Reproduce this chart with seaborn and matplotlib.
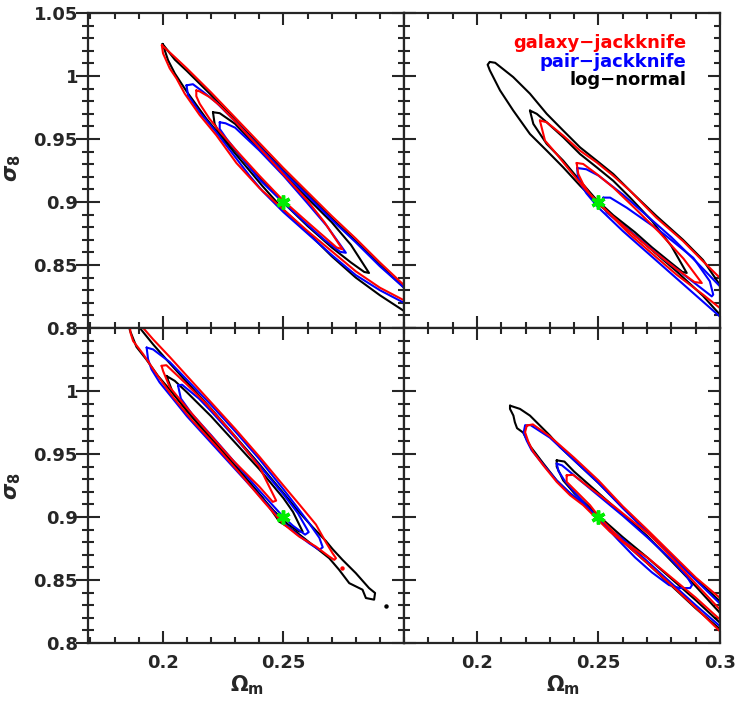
import numpy as np
import pandas as pd
import matplotlib.pyplot as plt
import seaborn as sns
from matplotlib.ticker import FixedLocator, MultipleLocator, FixedFormatter

# contour loops (Omega_m, sigma_8); one list per contour
# tl = top left, tr = top right, bl = bottom left, br = bottom right
# gal = galaxy-jackknife, pair = pair-jackknife, logn = log-normal ; 1 = inner, 2 = outer

tl_gal_2 = [(0.1996, 1.0245), (0.205, 1.015), (0.21, 1.006), (0.22, 0.987), (0.23, 0.967), (0.24, 0.947),
            (0.25, 0.927), (0.26, 0.908), (0.27, 0.889), (0.28, 0.871), (0.29, 0.852), (0.30, 0.834),
            (0.31, 0.816), (0.31, 0.806), (0.30, 0.822), (0.29, 0.832), (0.28, 0.845), (0.27, 0.861),
            (0.26, 0.877), (0.25, 0.894), (0.2401, 0.911), (0.2305, 0.931), (0.2222, 0.953), (0.2153, 0.969),
            (0.2091, 0.986), (0.2057, 0.998), (0.2029, 1.006), (0.2001, 1.018)]
tl_logn_2 = [(0.1999, 1.0255), (0.205, 1.013), (0.21, 1.004), (0.22, 0.985), (0.23, 0.965), (0.24, 0.945),
             (0.25, 0.925), (0.26, 0.906), (0.27, 0.887), (0.28, 0.869), (0.29, 0.850), (0.30, 0.832),
             (0.31, 0.814), (0.31, 0.797), (0.30, 0.8135), (0.29, 0.826), (0.28, 0.840), (0.27, 0.857),
             (0.26, 0.876), (0.25, 0.894), (0.2414, 0.9125), (0.2346, 0.928), (0.2263, 0.947), (0.2181, 0.966),
             (0.2098, 0.988), (0.205, 1.002), (0.2022, 1.0125), (0.2008, 1.0205)]
tl_pair_2 = [(0.2098, 0.9926), (0.2125, 0.9935), (0.2167, 0.9875), (0.2222, 0.979), (0.23, 0.964), (0.24, 0.944),
             (0.25, 0.924), (0.26, 0.905), (0.27, 0.886), (0.28, 0.868), (0.29, 0.849), (0.30, 0.832),
             (0.31, 0.814), (0.31, 0.805), (0.30, 0.820), (0.29, 0.830), (0.28, 0.842), (0.27, 0.858),
             (0.26, 0.875), (0.25, 0.892), (0.2414, 0.9085), (0.236, 0.9208), (0.2305, 0.9345), (0.2222, 0.9553),
             (0.2153, 0.9713), (0.2105, 0.9846)]
tl_gal_1 = [(0.2139, 0.9886), (0.2153, 0.9878), (0.2194, 0.9833), (0.2236, 0.9766), (0.23, 0.964), (0.24, 0.943),
            (0.25, 0.922), (0.26, 0.901), (0.267, 0.884), (0.2745, 0.8624), (0.272, 0.864), (0.266, 0.874),
            (0.26, 0.884), (0.25, 0.901), (0.24, 0.921), (0.23, 0.942), (0.2236, 0.956), (0.2194, 0.966),
            (0.2153, 0.978), (0.2139, 0.984)]
tl_logn_1 = [(0.2208, 0.9713), (0.2236, 0.9705), (0.23, 0.962), (0.24, 0.942), (0.25, 0.922), (0.26, 0.903),
             (0.27, 0.884), (0.278, 0.866), (0.2855, 0.8437), (0.2835, 0.8445), (0.278, 0.852), (0.27, 0.864),
             (0.26, 0.881), (0.25, 0.8995), (0.24, 0.919), (0.23, 0.941), (0.2236, 0.954), (0.2215, 0.962)]
tl_pair_1 = [(0.2236, 0.9633), (0.226, 0.9625), (0.23, 0.959), (0.24, 0.941), (0.25, 0.921), (0.26, 0.899),
             (0.268, 0.881), (0.2759, 0.8597), (0.2735, 0.8605), (0.267, 0.870), (0.26, 0.882), (0.25, 0.8995),
             (0.24, 0.918), (0.232, 0.937), (0.2265, 0.950), (0.2236, 0.958)]

tr_logn_2 = [(0.2053, 1.0112), (0.2075, 1.0105), (0.2149, 0.9992), (0.2218, 0.986), (0.2287, 0.970),
             (0.2355, 0.9567), (0.2424, 0.9434), (0.2493, 0.9328), (0.2561, 0.9222), (0.263, 0.9089),
             (0.2738, 0.889), (0.2848, 0.870), (0.293, 0.854), (0.30, 0.834), (0.31, 0.814), (0.31, 0.793),
             (0.30, 0.8105), (0.293, 0.8255), (0.2821, 0.845), (0.2725, 0.861), (0.2629, 0.877), (0.2493, 0.8995),
             (0.2424, 0.913), (0.2355, 0.9275), (0.2287, 0.9408), (0.2218, 0.954), (0.2149, 0.9727),
             (0.2095, 0.9886), (0.2053, 1.0045), (0.2044, 1.009)]
tr_logn_1 = [(0.2218, 0.9726), (0.2246, 0.970), (0.2287, 0.9633), (0.2355, 0.9514), (0.2424, 0.9381),
             (0.2493, 0.9275), (0.2561, 0.9168), (0.263, 0.9035), (0.272, 0.885), (0.280, 0.865), (0.2863, 0.8437),
             (0.2845, 0.8445), (0.279, 0.853), (0.272, 0.864), (0.265, 0.876), (0.2561, 0.8895), (0.2493, 0.9015),
             (0.2424, 0.9168), (0.2355, 0.9328), (0.2287, 0.9461), (0.2232, 0.962)]
tr_gal_2 = [(0.2259, 0.9647), (0.2287, 0.9633), (0.2355, 0.9527), (0.2424, 0.9408), (0.2493, 0.9314),
            (0.2561, 0.9208), (0.263, 0.9089), (0.2738, 0.8876), (0.2848, 0.869), (0.293, 0.853), (0.30, 0.8397),
            (0.31, 0.821), (0.31, 0.800), (0.30, 0.8158), (0.293, 0.8265), (0.2821, 0.8424), (0.2725, 0.8583),
            (0.2629, 0.8743), (0.2547, 0.8902), (0.25, 0.8995), (0.2451, 0.9089), (0.2383, 0.9248),
            (0.2328, 0.938), (0.228, 0.9487), (0.2266, 0.9593)]
tr_gal_1 = [(0.241, 0.931), (0.2437, 0.9302), (0.2493, 0.9222), (0.2561, 0.9115), (0.265, 0.895), (0.275, 0.876),
            (0.285, 0.855), (0.2925, 0.8357), (0.2895, 0.8365), (0.282, 0.847), (0.272, 0.862), (0.262, 0.878),
            (0.2493, 0.900), (0.2465, 0.9062), (0.2437, 0.9142), (0.2417, 0.9222)]
tr_pair_2 = [(0.2412, 0.927), (0.245, 0.926), (0.25, 0.921), (0.26, 0.906), (0.27, 0.889), (0.28, 0.872),
             (0.29, 0.853), (0.30, 0.833), (0.31, 0.814), (0.31, 0.792), (0.30, 0.809), (0.29, 0.826),
             (0.28, 0.843), (0.27, 0.860), (0.26, 0.877), (0.25, 0.8955), (0.245, 0.907), (0.2425, 0.915),
             (0.2415, 0.921)]
tr_pair_1 = [(0.252, 0.9035), (0.2548, 0.9035), (0.2616, 0.8955), (0.2753, 0.877), (0.289, 0.8557),
             (0.2958, 0.8371), (0.2972, 0.8265), (0.2966, 0.8251), (0.289, 0.8365), (0.2753, 0.857),
             (0.2616, 0.879), (0.2534, 0.8916), (0.2513, 0.8982)]

bl_gal_2 = [(0.1915, 1.056), (0.1919, 1.050), (0.196, 1.041), (0.2029, 1.027), (0.21, 1.012), (0.22, 0.991),
            (0.23, 0.970), (0.24, 0.948), (0.25, 0.925), (0.2566, 0.910), (0.2635, 0.894), (0.2676, 0.880),
            (0.2704, 0.8712), (0.2718, 0.8673), (0.2711, 0.866), (0.269, 0.8686), (0.2635, 0.8765),
            (0.2566, 0.8844), (0.25, 0.8945), (0.2415, 0.913), (0.2318, 0.935), (0.2222, 0.956), (0.2125, 0.976),
            (0.2043, 0.995), (0.1974, 1.0134), (0.1919, 1.0292), (0.1877, 1.0397), (0.1866, 1.0463), (0.1862, 1.056)]
bl_logn_2 = [(0.1855, 1.056), (0.1864, 1.048), (0.1891, 1.035), (0.1932, 1.025), (0.198, 1.012), (0.2043, 0.998),
             (0.213, 0.978), (0.2222, 0.958), (0.2318, 0.937), (0.2415, 0.915), (0.2484, 0.8962), (0.2552, 0.8883),
             (0.2621, 0.8778), (0.269, 0.8673), (0.2731, 0.8581), (0.2773, 0.8475), (0.2828, 0.8423),
             (0.2842, 0.8357), (0.2876, 0.8344), (0.288, 0.8397), (0.2855, 0.8436), (0.28, 0.8555), (0.2745, 0.866),
             (0.2704, 0.8745), (0.2676, 0.881), (0.2621, 0.892), (0.256, 0.905), (0.25, 0.919), (0.24, 0.942),
             (0.23, 0.964), (0.22, 0.986), (0.21, 1.007), (0.2029, 1.022), (0.196, 1.037), (0.1905, 1.05),
             (0.1895, 1.056)]
bl_pair_2 = [(0.1933, 1.0345), (0.196, 1.033), (0.2029, 1.023), (0.21, 1.009), (0.22, 0.989), (0.23, 0.968),
             (0.24, 0.946), (0.25, 0.922), (0.2552, 0.909), (0.2607, 0.895), (0.2649, 0.8835), (0.2663, 0.876),
             (0.2649, 0.8739), (0.2607, 0.8791), (0.2552, 0.887), (0.25, 0.8955), (0.24, 0.917), (0.23, 0.938),
             (0.22, 0.959), (0.21, 0.980), (0.2043, 0.9936), (0.1987, 1.0068), (0.1953, 1.0173), (0.1939, 1.0252)]
bl_gal_1 = [(0.1995, 1.020), (0.2015, 1.0205), (0.2098, 1.0055), (0.2181, 0.9897), (0.2291, 0.966),
            (0.2401, 0.9397), (0.247, 0.913), (0.2456, 0.912), (0.2401, 0.9239), (0.2291, 0.9449),
            (0.2181, 0.9686), (0.2098, 0.9871), (0.2029, 1.003), (0.2001, 1.016)]
bl_logn_1 = [(0.2015, 1.012), (0.205, 1.008), (0.21, 0.999), (0.22, 0.980), (0.23, 0.959), (0.24, 0.938),
             (0.25, 0.915), (0.254, 0.904), (0.258, 0.8883), (0.2565, 0.8885), (0.252, 0.894), (0.246, 0.905),
             (0.24, 0.918), (0.23, 0.940), (0.22, 0.962), (0.21, 0.984), (0.2043, 0.998)]
bl_pair_1 = [(0.2063, 1.0045), (0.208, 1.005), (0.215, 0.994), (0.22, 0.984), (0.23, 0.963), (0.24, 0.941),
             (0.25, 0.918), (0.256, 0.903), (0.2605, 0.888), (0.259, 0.886), (0.254, 0.893), (0.25, 0.900),
             (0.24, 0.921), (0.23, 0.943), (0.22, 0.965), (0.212, 0.982), (0.2075, 0.994)]

br_logn_2 = [(0.2136, 0.9884), (0.2177, 0.9858), (0.2218, 0.9805), (0.2259, 0.9726), (0.23, 0.9647),
             (0.2342, 0.9555), (0.24, 0.945), (0.25, 0.927), (0.26, 0.9075), (0.27, 0.889), (0.28, 0.870),
             (0.29, 0.851), (0.30, 0.833), (0.31, 0.815), (0.31, 0.794), (0.30, 0.811), (0.29, 0.8275),
             (0.28, 0.8455), (0.27, 0.8635), (0.26, 0.8805), (0.2547, 0.8895), (0.2492, 0.900), (0.2437, 0.9105),
             (0.2383, 0.9185), (0.2328, 0.929), (0.2273, 0.9425), (0.222, 0.956), (0.219, 0.967), (0.2165, 0.9705),
             (0.2156, 0.9752), (0.215, 0.9805), (0.2136, 0.9858)]
br_pair_2 = [(0.2198, 0.9726), (0.222, 0.973), (0.23, 0.963), (0.24, 0.945), (0.25, 0.927), (0.26, 0.907),
             (0.27, 0.888), (0.28, 0.869), (0.29, 0.850), (0.30, 0.8312), (0.31, 0.813), (0.31, 0.796),
             (0.30, 0.8133), (0.29, 0.830), (0.28, 0.8475), (0.27, 0.865), (0.26, 0.8825), (0.2547, 0.890),
             (0.2492, 0.9005), (0.2437, 0.911), (0.2383, 0.919), (0.2328, 0.929), (0.2273, 0.9415), (0.2225, 0.953),
             (0.2205, 0.9605), (0.2192, 0.967)]
br_gal_2 = [(0.2205, 0.9726), (0.223, 0.9735), (0.23, 0.964), (0.24, 0.947), (0.25, 0.929), (0.26, 0.9085),
            (0.27, 0.890), (0.28, 0.871), (0.29, 0.852), (0.30, 0.8357), (0.31, 0.818), (0.31, 0.792),
            (0.30, 0.8093), (0.29, 0.828), (0.28, 0.846), (0.27, 0.8635), (0.2616, 0.8778), (0.2547, 0.8884),
            (0.2492, 0.8989), (0.2437, 0.9094), (0.2383, 0.9173), (0.2328, 0.9279), (0.2273, 0.941),
            (0.2232, 0.9516), (0.2212, 0.9594), (0.2198, 0.9673)]
br_gal_1 = [(0.2369, 0.9331), (0.2396, 0.9335), (0.2451, 0.9252), (0.2506, 0.9173), (0.2575, 0.9068),
            (0.2643, 0.8962), (0.2712, 0.8857), (0.28, 0.868), (0.29, 0.847), (0.30, 0.8265), (0.31, 0.806),
            (0.31, 0.798), (0.30, 0.8186), (0.29, 0.836), (0.28, 0.852), (0.27, 0.868), (0.2602, 0.8805),
            (0.2547, 0.891), (0.2502, 0.9002), (0.2465, 0.9094), (0.241, 0.920), (0.2369, 0.9279)]
br_logn_1 = [(0.2328, 0.945), (0.236, 0.944), (0.24, 0.936), (0.25, 0.919), (0.26, 0.902), (0.27, 0.885),
             (0.28, 0.865), (0.29, 0.845), (0.30, 0.8238), (0.31, 0.803), (0.31, 0.795), (0.30, 0.816),
             (0.29, 0.834), (0.28, 0.851), (0.27, 0.868), (0.26, 0.884), (0.25, 0.901), (0.24, 0.919),
             (0.2355, 0.929), (0.2328, 0.940)]
br_pair_1 = [(0.2328, 0.9424), (0.235, 0.941), (0.24, 0.933), (0.25, 0.917), (0.26, 0.901), (0.27, 0.884),
             (0.28, 0.866), (0.2863, 0.853), (0.2885, 0.846), (0.2877, 0.8436), (0.2835, 0.8436), (0.279, 0.846),
             (0.272, 0.856), (0.265, 0.868), (0.258, 0.882), (0.2506, 0.8975), (0.245, 0.909), (0.24, 0.920),
             (0.236, 0.929), (0.2335, 0.9366)]

# tiny islands in the bottom-left panel
bl_islands_om = [0.2745, 0.2924]
bl_islands_s8 = [0.8594, 0.8291]
bl_islands_method = ["galaxy-jackknife", "log-normal"]

# fiducial model
fid_om = 0.25
fid_s8 = 0.90

methods = ["log-normal", "pair-jackknife", "galaxy-jackknife"]
method_colours = ["#000000", "#0000ff", "#ff0000"]

x_major = [0.2, 0.25, 0.3]
y_major = [0.8, 0.85, 0.9, 0.95, 1.0, 1.05]
x_labels_left = ["0.2", "0.25", ""]
x_labels_right = ["0.2", "0.25", "0.3"]
y_labels_top = ["0.8", "0.85", "0.9", "0.95", "1", "1.05"]
y_labels_bottom = ["0.8", "0.85", "0.9", "0.95", "1", ""]

contours = {
    ("tl", "galaxy-jackknife", 2): tl_gal_2, ("tl", "galaxy-jackknife", 1): tl_gal_1,
    ("tl", "pair-jackknife", 2): tl_pair_2, ("tl", "pair-jackknife", 1): tl_pair_1,
    ("tl", "log-normal", 2): tl_logn_2, ("tl", "log-normal", 1): tl_logn_1,
    ("tr", "galaxy-jackknife", 2): tr_gal_2, ("tr", "galaxy-jackknife", 1): tr_gal_1,
    ("tr", "pair-jackknife", 2): tr_pair_2, ("tr", "pair-jackknife", 1): tr_pair_1,
    ("tr", "log-normal", 2): tr_logn_2, ("tr", "log-normal", 1): tr_logn_1,
    ("bl", "galaxy-jackknife", 2): bl_gal_2, ("bl", "galaxy-jackknife", 1): bl_gal_1,
    ("bl", "pair-jackknife", 2): bl_pair_2, ("bl", "pair-jackknife", 1): bl_pair_1,
    ("bl", "log-normal", 2): bl_logn_2, ("bl", "log-normal", 1): bl_logn_1,
    ("br", "galaxy-jackknife", 2): br_gal_2, ("br", "galaxy-jackknife", 1): br_gal_1,
    ("br", "pair-jackknife", 2): br_pair_2, ("br", "pair-jackknife", 1): br_pair_1,
    ("br", "log-normal", 2): br_logn_2, ("br", "log-normal", 1): br_logn_1,
}

rows = []
for (panel, method, level), pts in contours.items():
    loop = pts + pts[:1]   # close the loop
    for i, (om, s8) in enumerate(loop):
        rows.append({"panel": panel, "method": method, "cid": f"{method}-{level}", "i": i, "om": om, "s8": s8})
df = pd.DataFrame(rows)

sns.set_style("ticks")
plt.rcParams["font.family"] = ["DejaVu Sans"]
plt.rcParams["font.weight"] = "bold"
plt.rcParams["mathtext.fontset"] = "custom"
plt.rcParams["mathtext.rm"] = "DejaVu Sans:bold"
plt.rcParams["mathtext.it"] = "DejaVu Sans:italic:bold"
plt.rcParams["mathtext.bf"] = "DejaVu Sans:bold"

fig, axes = plt.subplots(2, 2, figsize=(7.47, 7.08), dpi=100)
plt.subplots_adjust(left=0.1178, right=0.9639, bottom=0.0918, top=0.9816, wspace=0, hspace=0)

panels = {"tl": axes[0, 0], "tr": axes[0, 1], "bl": axes[1, 0], "br": axes[1, 1]}

for name, ax in panels.items():
    sub = df[df["panel"] == name]
    sns.lineplot(data=sub, x="om", y="s8", hue="method", hue_order=methods, palette=method_colours,
                 units="cid", estimator=None, sort=False, lw=1.5, legend=False, ax=ax)
    ax.plot(fid_om, fid_s8, marker=(6, 2, 0), ms=10, mew=2.5, color="#00ee00", zorder=5)

    left = name in ("tl", "bl")
    top = name in ("tl", "tr")
    ax.set_xlim(0.169 if left else 0.170, 0.3)
    ax.set_ylim(0.8, 1.05)
    ax.set_xlabel("")
    ax.set_ylabel("")

    ax.xaxis.set_major_locator(FixedLocator(x_major))
    ax.xaxis.set_minor_locator(MultipleLocator(0.01))
    ax.yaxis.set_major_locator(FixedLocator(y_major))
    ax.yaxis.set_minor_locator(MultipleLocator(0.01))

    ax.tick_params(axis="x", which="both", direction="in", top=True, bottom=True, width=1.5,
                   labelsize=13, pad=8)
    ax.tick_params(axis="x", which="major", length=8.5)
    ax.tick_params(axis="x", which="minor", length=4.5)
    if left:
        ax.tick_params(axis="y", which="both", direction="inout", left=True, right=True, width=1.5,
                       labelsize=13, pad=-1.3)
        ax.tick_params(axis="y", which="major", length=17)
        ax.tick_params(axis="y", which="minor", length=9)
    else:
        ax.tick_params(axis="y", which="both", direction="in", left=True, right=True, width=1.5,
                       labelleft=False)
        ax.tick_params(axis="y", which="major", length=8.5)
        ax.tick_params(axis="y", which="minor", length=4.5)

    if top:
        ax.tick_params(axis="x", labelbottom=False)
    else:
        ax.xaxis.set_major_formatter(FixedFormatter(x_labels_left if left else x_labels_right))
    if left:
        ax.yaxis.set_major_formatter(FixedFormatter(y_labels_top if top else y_labels_bottom))

    for sp in ax.spines.values():
        sp.set_linewidth(1.6)

# isolated specks in the lower-left panel
for om, s8, m in zip(bl_islands_om, bl_islands_s8, bl_islands_method):
    panels["bl"].plot(om, s8, "o", ms=2.2, color=method_colours[methods.index(m)])

# legend text
leg_ax = panels["tr"]
leg_y = [0.905, 0.846, 0.788]
for txt, col, yy in zip(["galaxy\u2212jackknife", "pair\u2212jackknife", "log\u2212normal"],
                        ["#ff0000", "#0000ff", "#000000"], leg_y):
    leg_ax.text(0.893, yy, txt, color=col, fontsize=13, fontweight="bold",
                ha="right", va="center", transform=leg_ax.transAxes)

# axis labels
fig.text(13 / 747, 1 - 168 / 708, r"$\sigma_8$", rotation=90, fontsize=15, ha="center", va="center")
fig.text(13 / 747, 1 - 486 / 708, r"$\sigma_8$", rotation=90, fontsize=15, ha="center", va="center")
fig.text(247 / 747, 1 - 685 / 708, r"$\Omega_\mathrm{m}$", fontsize=15, ha="center", va="center")
fig.text(563 / 747, 1 - 685 / 708, r"$\Omega_\mathrm{m}$", fontsize=15, ha="center", va="center")

fig.savefig("out.png", dpi=100)
